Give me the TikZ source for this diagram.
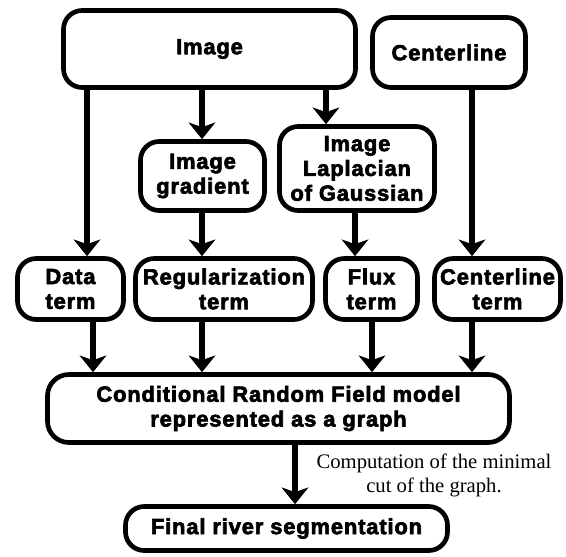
\documentclass[tikz,border=0pt]{standalone}
\usepackage{fontspec}
\usetikzlibrary{arrows.meta}
\newfontfamily\boxfont{Liberation Sans}[LetterSpace=4, BoldFeatures={FakeBold=3}]
\newfontfamily\notefont{Liberation Serif}

\begin{document}
\begin{tikzpicture}[x=0.75pt, y=-0.75pt,
  stage/.style={draw, line width=3.5pt, rounded corners=14pt, fill=white,
    inner sep=0pt, align=center,
    font=\boxfont\bfseries\fontsize{16.4}{18.6}\selectfont},
  sz/.style 2 args={minimum width=#1*0.75pt, minimum height=#2*0.75pt},
  flow/.style={line width=4.5pt,
    -{Stealth[length=12.5pt, width=20pt, inset=3.5pt]}},
  remark/.style={align=center, inner sep=0pt,
    font=\notefont\fontsize{15.5}{18}\selectfont}]

\useasboundingbox (0,0) rectangle (566,556);

% inputs
\node[stage, sz={292}{77}] (img) at (209.5,49) {Image};
\node[stage, sz={153}{70}] (cl)  at (449,52.5) {Centerline};

% image filters
\node[stage, sz={124}{69}] (grad) at (202.5,176) {Image\\gradient};
\node[stage, sz={155}{84}] (log)  at (357,168.5) {Image\\Laplacian\\of Gaussian};

% energy terms
\node[stage, sz={106}{61}] (data)  at (70.5,289)  {Data\\term};
\node[stage, sz={177}{61}] (reg)   at (224,289)   {Regularization\\term};
\node[stage, sz={92}{61}]  (flux)  at (371.5,289) {Flux\\term};
\node[stage, sz={126}{61}] (cterm) at (497.5,289) {Centerline\\term};

% model and result
\node[stage, sz={462}{68}, rounded corners=16pt] (crf) at (278.5,408.5)
  {Conditional Random Field model\\represented as a graph};
\node[stage, sz={322}{44}] (final) at (286.5,528.5) {Final river segmentation};

\node[remark] (note) at (434,475) {Computation of the minimal\\cut of the graph.};

% arrow columns
\coordinate (xa) at (87,0);
\coordinate (xb) at (202,0);
\coordinate (xc) at (326,0);
\coordinate (xd) at (472,0);
\coordinate (xe) at (355,0);
\coordinate (xf) at (93,0);
\coordinate (xg) at (372,0);
\coordinate (xh) at (295,0);

\draw[flow] (img.south -| xa) -- (data.north -| xa);
\draw[flow] (img.south -| xb) -- (grad.north -| xb);
\draw[flow] (img.south -| xc) -- (log.north -| xc);
\draw[flow] (cl.south -| xd)  -- (cterm.north -| xd);
\draw[flow] (grad.south -| xb) -- (reg.north -| xb);
\draw[flow] (log.south -| xe)  -- (flux.north -| xe);

\draw[flow] (data.south -| xf)  -- (crf.north -| xf);
\draw[flow] (reg.south -| xb)   -- (crf.north -| xb);
\draw[flow] (flux.south -| xg)  -- (crf.north -| xg);
\draw[flow] (cterm.south -| xd) -- (crf.north -| xd);

\draw[flow] (crf.south -| xh) -- (final.north -| xh);
\end{tikzpicture}
\end{document}
